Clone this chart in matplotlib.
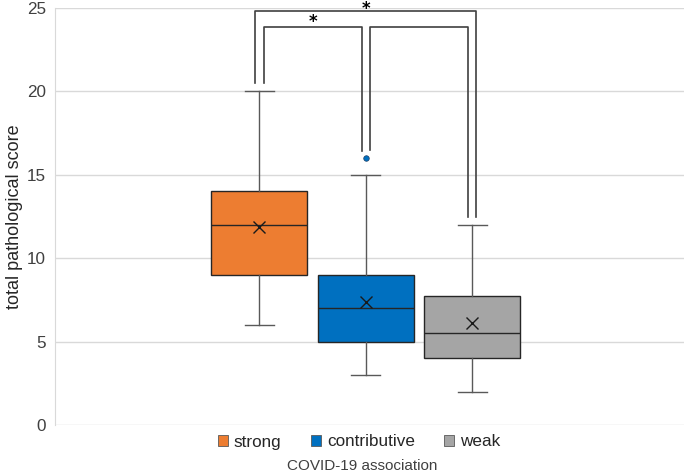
import matplotlib.pyplot as plt
from matplotlib.patches import Patch

plt.rcParams["font.family"] = ["Liberation Sans", "DejaVu Sans"]

groups = ["strong", "contributive", "weak"]
colors = ["#ED7D31", "#0070C0", "#A5A5A5"]
whislo = [6, 3, 2]
q1 = [9, 5, 4]
med = [12, 7, 5.5]
q3 = [14, 9, 7.75]
whishi = [20, 15, 12]
means = [11.9, 7.4, 6.1]
fliers = [[], [16], []]

# significance brackets: (left group, right group, star)
pairs = [(0, 1, "*"), (1, 2, ""), (0, 2, "*")]

fig = plt.figure(figsize=(6.84, 4.72), dpi=100)
ax = fig.add_axes([55 / 684, 47 / 472, 629 / 684, 417 / 472])

pos = [1, 2, 3]
stats = []
for i, g in enumerate(groups):
    stats.append(dict(label=g, whislo=whislo[i], q1=q1[i], med=med[i], q3=q3[i],
                      whishi=whishi[i], mean=means[i], fliers=fliers[i]))

bp = ax.bxp(stats, positions=pos, widths=0.9, patch_artist=True, showmeans=True,
            boxprops=dict(edgecolor="#262626", linewidth=1.0),
            medianprops=dict(color="#262626", linewidth=1.0),
            whiskerprops=dict(color="#595959", linewidth=1.0),
            capprops=dict(color="#595959", linewidth=1.0),
            capwidths=0.27,
            meanprops=dict(marker="x", markeredgecolor="#1a1a1a", markersize=8, markeredgewidth=1.0),
            flierprops=dict(marker="o", markersize=4, markeredgecolor="#1f3f66",
                            markeredgewidth=0.5))
for patch, c in zip(bp["boxes"], colors):
    patch.set_facecolor(c)
for fl, c in zip(bp["fliers"], colors):
    fl.set_markerfacecolor(c)

# brackets
tops = {(0, 1): 23.86, (1, 2): 23.86, (0, 2): 24.82}
for a, b, star in pairs:
    inner = 0.04 if b - a == 1 else -0.04
    xa = pos[a] + inner
    xb = pos[b] - inner
    ya = max([whishi[a]] + fliers[a]) + 0.5
    yb = max([whishi[b]] + fliers[b]) + 0.45
    top = tops[(a, b)]
    ax.plot([xa, xa, xb, xb], [ya, top, top, yb], color="#404040", lw=1.2,
            clip_on=False, zorder=3)
    if star:
        dy = -0.25 if b - a == 1 else -0.4
        ax.text((xa + xb) / 2, top + dy, star, family="DejaVu Sans",
                ha="center", va="bottom", fontsize=12, fontweight="bold",
                clip_on=False)

ax.set_xlim(-0.92, 4.99)
ax.set_ylim(0, 25)
ax.set_yticks([0, 5, 10, 15, 20, 25])
ax.set_xticks([])
ax.grid(True, axis="y", color="#d9d9d9", linewidth=1.0)
ax.set_axisbelow(True)
for s in ["top", "right", "bottom"]:
    ax.spines[s].set_visible(False)
ax.spines["left"].set_color("#d9d9d9")
ax.tick_params(axis="y", length=0, labelsize=12.3, labelcolor="#404040", pad=6.5)
ax.set_ylabel("total pathological score", fontsize=13, color="#262626", labelpad=3)

handles = [Patch(facecolor=c, edgecolor="#595959", linewidth=0.6) for c in colors]
fig.legend(handles, groups, loc="center", bbox_to_anchor=(359 / 684, 1 - 442 / 472), ncol=3,
           frameon=False, fontsize=12.3, handlelength=0.6, handleheight=0.6,
           handletextpad=0.35, columnspacing=1.7, labelcolor="#262626")
fig.text(362 / 684, 1 - 466 / 472, "COVID-19 association", ha="center", va="center",
         fontsize=11, color="#404040")

fig.savefig("out.png", dpi=100)
